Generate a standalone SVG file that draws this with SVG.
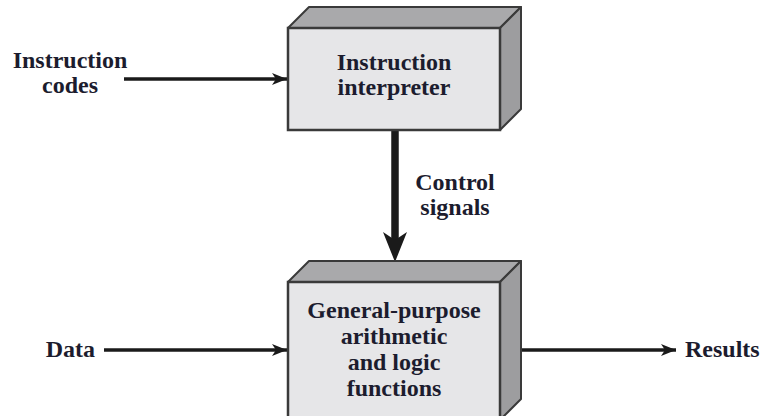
<svg xmlns="http://www.w3.org/2000/svg" width="761" height="416" viewBox="0 0 761 416">
<style>
  text { font-family: "Liberation Serif", "Times New Roman", serif; font-weight: bold; font-size: 24px; fill: #1c1c2e; }
  .front { fill: #e6e6e8; stroke: #3a3a3a; stroke-width: 2.5; }
  .top { fill: #a9a9ab; stroke: #3a3a3a; stroke-width: 2; stroke-linejoin: round; }
  .side { fill: #9d9d9f; stroke: #3a3a3a; stroke-width: 2; stroke-linejoin: round; }
  .conn { stroke: #1a1a1a; fill: none; }
</style>
<defs>
  <marker id="ah" markerWidth="16" markerHeight="12" refX="15" refY="6" orient="auto" markerUnits="userSpaceOnUse">
    <path d="M0,0 L15,6 L0,12 L4,6 Z" fill="#1a1a1a"/>
  </marker>
</defs>

<g id="connectors">
  <line class="conn" x1="124" y1="79" x2="287" y2="79" stroke-width="3.5" marker-end="url(#ah)"/>
  <line class="conn" x1="104" y1="350" x2="287" y2="350" stroke-width="3.5" marker-end="url(#ah)"/>
  <line class="conn" x1="522" y1="350" x2="676" y2="350" stroke-width="3.5" marker-end="url(#ah)"/>
  <line x1="395" y1="131" x2="395" y2="240" stroke="#1a1a1a" stroke-width="7.5"/>
  <path d="M383,232 L395,262 L407,232 L395,240 Z" fill="#1a1a1a"/>
</g>

<g id="instruction-interpreter">
  <polygon class="top" points="288,28 309,7 521,7 500,28"/>
  <polygon class="side" points="500,28 521,7 521,109 500,130"/>
  <rect class="front" x="288" y="28" width="212" height="102"/>
  <text x="394" y="70" text-anchor="middle">Instruction</text>
  <text x="394" y="95" text-anchor="middle">interpreter</text>
</g>

<g id="alu">
  <polygon class="top" points="288,282 309,261 521,261 500,282"/>
  <polygon class="side" points="500,282 521,261 521,399 500,420"/>
  <rect class="front" x="288" y="282" width="212" height="140"/>
  <text x="394" y="318" text-anchor="middle">General-purpose</text>
  <text x="394" y="344" text-anchor="middle">arithmetic</text>
  <text x="394" y="370" text-anchor="middle">and logic</text>
  <text x="394" y="396" text-anchor="middle">functions</text>
</g>

<g id="label-instruction-codes">
  <text x="70" y="68" text-anchor="middle">Instruction</text>
  <text x="70" y="93" text-anchor="middle">codes</text>
</g>
<g id="label-control-signals">
  <text x="455" y="190" text-anchor="middle">Control</text>
  <text x="455" y="215" text-anchor="middle">signals</text>
</g>
<g id="label-data">
  <text x="95" y="357" text-anchor="end">Data</text>
</g>
<g id="label-results">
  <text x="685" y="357">Results</text>
</g>
</svg>
